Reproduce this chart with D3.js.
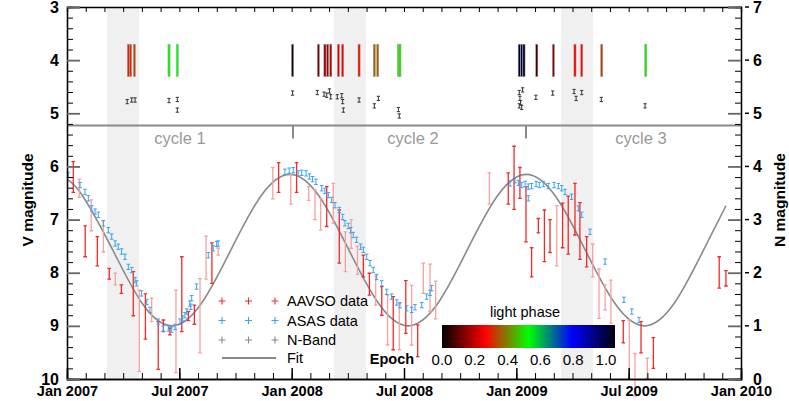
<!DOCTYPE html>
<html><head><meta charset="utf-8">
<script src="https://cdn.jsdelivr.net/npm/d3@7"></script>
<style>body{margin:0;background:#fff}svg{display:block;font-family:"Liberation Sans",Arial,Helvetica,sans-serif}</style>
</head><body><svg id="c" width="789" height="401"></svg>
<script>
// ---------- data (time in decimal years, magnitudes) ----------
const xTickValues = [2007, 2007.5, 2008, 2008.5, 2009, 2009.5, 2010];
const xTickLabels = ["Jan 2007","Jul 2007","Jan 2008","Jul 2008","Jan 2009","Jul 2009","Jan 2010"];
const vTicks = [3,4,5,6,7,8,9,10];
const nTicks = [0,1,2,3,4,5,6,7];
const phaseTicks = [0,0.2,0.4,0.6,0.8,1.0];
const cycleLabels = ["cycle 1","cycle 2","cycle 3"];
const cycleLabelPos = [2007.503, 2008.540, 2009.555];
const cycleBounds = [2008.006, 2009.043];
const shadedBands = [[2007.178,2007.320],[2008.188,2008.331],[2009.199,2009.341]];
const separatorV = 5.23;

// AAVSO: [time, V bright end, V faint end]
const aavsoStrong = [
 [2007.028,5.91,6.49],[2007.081,7.12,7.70],[2007.135,7.32,7.87],[2007.188,7.92,8.12],[2007.242,8.23,8.39],
 [2007.295,7.98,8.81],[2007.349,8.40,9.25],[2007.406,8.92,9.82],[2007.429,8.89,9.11],[2007.458,9.04,9.17],
 [2007.511,7.70,9.11],[2007.540,8.73,8.90],[2007.567,8.61,8.97],[2007.645,7.44,8.20],
 [2007.942,5.93,6.49],[2008.022,5.93,6.49],[2008.156,6.38,7.13],[2008.212,6.82,7.82],[2008.319,7.67,8.08],
 [2008.346,8.01,8.42],[2008.401,8.26,8.80],[2008.452,8.45,9.45],[2008.508,8.15,9.14],[2008.561,8.98,9.58],
 [2008.964,6.12,6.71],[2008.990,5.62,6.81],[2009.016,6.02,6.60],[2009.043,6.38,7.42],[2009.068,7.53,8.08],
 [2009.098,6.98,7.25],[2009.125,6.82,7.79],[2009.150,7.00,7.62],[2009.206,6.69,7.53],[2009.231,6.56,7.65],
 [2009.261,6.32,7.29],[2009.283,6.68,7.75],[2009.313,7.32,7.89],[2009.476,8.90,9.32],[2009.555,8.92,9.51],
 [2009.610,9.22,9.80],[2009.903,7.70,8.29],[2009.933,7.96,8.25]
];
const aavsoFaint = [
 [2007.055,6.24,6.58],[2007.108,6.63,7.21],[2007.162,7.02,7.61],[2007.215,8.01,8.23],[2007.322,8.33,9.86],
 [2007.377,8.48,8.92],[2007.485,8.33,9.88],[2007.592,8.11,9.51],[2007.619,7.31,8.12],[2007.673,7.54,7.67],
 [2007.916,6.02,6.61],[2007.996,6.16,6.71],[2008.076,6.38,6.64],[2008.104,6.44,7.00],[2008.129,6.60,7.20],
 [2008.185,6.32,7.07],[2008.239,7.23,7.98],[2008.265,7.00,7.54],[2008.293,7.50,8.03],[2008.374,8.06,8.61],
 [2008.427,8.42,9.36],[2008.479,8.58,9.45],[2008.534,8.24,9.36],[2008.586,7.82,8.39],[2008.616,7.84,8.73],
 [2008.641,8.16,8.87],
 [2008.880,6.12,6.71],[2009.180,6.74,7.87],[2009.340,7.46,8.08],[2009.368,7.93,8.86],[2009.395,8.23,8.70],
 [2009.421,8.14,8.95],[2009.503,8.89,10.0],[2009.528,9.52,10.32],[2009.583,9.61,9.99]
];
// ASAS: [time, V]
const asas = [
 [2007.006,6.16],[2007.058,6.35],[2007.080,6.48],[2007.095,6.60],[2007.110,6.79],[2007.125,6.85],[2007.139,6.91],
 [2007.162,7.07],[2007.184,7.20],[2007.199,7.32],[2007.214,7.45],[2007.228,7.51],[2007.243,7.60],[2007.258,7.70],
 [2007.273,7.89],[2007.288,7.95],[2007.303,8.14],[2007.310,8.20],[2007.332,8.39],[2007.355,8.55],[2007.369,8.70],
 [2007.406,8.92],[2007.429,9.05],[2007.451,9.05],[2007.466,9.07],[2007.481,9.02],[2007.503,8.92],[2007.515,8.86],
 [2007.525,8.80],[2007.533,8.73],[2007.547,8.58],[2007.551,8.64],[2007.555,8.48],[2007.577,8.26],[2007.629,7.67],
 [2007.651,7.54],[2007.666,7.46],[2007.673,7.45],
 [2007.970,6.10],[2007.989,6.08],[2008.007,6.07],[2008.029,6.13],[2008.045,6.12],[2008.064,6.13],[2008.079,6.19],
 [2008.093,6.24],[2008.108,6.29],[2008.134,6.41],[2008.148,6.46],[2008.163,6.54],[2008.178,6.63],[2008.193,6.73],
 [2008.212,6.82],[2008.227,6.95],[2008.237,7.07],[2008.252,7.12],[2008.263,7.20],[2008.274,7.29],[2008.289,7.38],
 [2008.307,7.51],[2008.319,7.57],[2008.334,7.70],[2008.349,7.82],[2008.363,7.95],[2008.378,8.08],[2008.401,8.20],
 [2008.423,8.36],[2008.445,8.45],[2008.468,8.56],[2008.482,8.61],[2008.512,8.67],[2008.534,8.70],[2008.549,8.65],
 [2008.579,8.61],[2008.601,8.45],[2008.616,8.38],[2008.623,8.29],
 [2008.972,6.32],[2008.994,6.26],[2009.009,6.31],[2009.024,6.35],[2009.039,6.33],[2009.053,6.38],[2009.068,6.37],
 [2009.088,6.33],[2009.102,6.35],[2009.120,6.33],[2009.142,6.37],[2009.168,6.35],[2009.187,6.37],[2009.202,6.41],
 [2009.217,6.48],[2009.246,6.57],[2009.053,6.60],[2009.276,6.79],[2009.291,6.91],[2009.328,7.23],[2009.395,7.79],
 [2009.479,8.51],[2009.514,8.73],[2009.546,8.89]
];
// N-band: [time, N magnitude]
const nband = [
 [2007.268,5.22],[2007.288,5.25],[2007.303,5.25],[2007.454,5.24],[2007.491,5.26],[2007.491,5.06],
 [2008.004,5.38],[2008.114,5.39],[2008.144,5.36],[2008.156,5.34],[2008.168,5.42],[2008.174,5.31],[2008.203,5.31],
 [2008.223,5.33],[2008.227,5.22],[2008.230,5.06],[2008.300,5.25],[2008.368,5.14],[2008.386,5.28],[2008.475,5.07],
 [2008.479,4.95],
 [2009.013,5.39],[2009.016,5.28],[2009.019,5.20],[2009.024,5.11],[2009.013,5.14],[2009.028,5.44],[2009.087,5.30],
 [2009.162,5.38],[2009.257,5.41],[2009.266,5.28],[2009.291,5.39],[2009.378,5.26],[2009.573,5.14]
];
// observation epochs: [time, light phase]
const epochs = [
 [2007.273,0.28],[2007.283,0.29],[2007.300,0.32],[2007.454,0.49],[2007.491,0.50],
 [2008.004,0.02],[2008.119,0.12],[2008.148,0.15],[2008.160,0.16],[2008.174,0.17],[2008.208,0.22],[2008.227,0.23],
 [2008.300,0.27],[2008.368,0.34],[2008.383,0.35],[2008.475,0.46],[2008.482,0.47],
 [2009.013,0.94],[2009.024,0.96],[2009.034,0.98],[2009.091,0.07],[2009.165,0.13],[2009.261,0.24],[2009.291,0.25],
 [2009.380,0.31],[2009.576,0.48]
];
// sinusoidal fit: [time, V]
const fit = [
 [2007.000,6.24],[2007.072,6.57],[2007.204,7.575],[2007.335,8.58],[2007.467,9.00],[2007.598,8.58],[2007.729,7.575],
 [2007.861,6.57],[2007.992,6.15],[2008.124,6.57],[2008.255,7.575],[2008.387,8.58],[2008.518,9.00],[2008.650,8.58],
 [2008.781,7.575],[2008.913,6.57],[2009.044,6.15],[2009.176,6.57],[2009.307,7.575],[2009.439,8.58],[2009.570,9.00],
 [2009.702,8.58],[2009.833,7.575],[2009.933,6.74]
];
const phaseStops = [0,0.25,0.5,0.75,1];
const phaseColors = ["#000000","#ff0000","#00ff00","#0000ff","#000010"];
const legendLabels = ["AAVSO data","ASAS data","N-Band","Fit"];

// ---------- drawing ----------
const svg = d3.select("#c");
const L=67, R=741, T=7, B=379;
const x = d3.scaleLinear().domain([2007,2010]).range([L,R]);
const yV = d3.scaleLinear().domain([3,10]).range([T,B]);
const yN = d3.scaleLinear().domain([7,0]).range([T,B]);
const pc = d3.scaleLinear().domain(phaseStops).range(phaseColors);

const RED="#f22a2a", PINK="#f7a1a1", BLUE="#3aa2ee", GRAY="#8a8a8a";

// shaded bands
svg.append("g").selectAll("rect").data(shadedBands).join("rect")
 .attr("x",d=>x(d[0])).attr("width",d=>x(d[1])-x(d[0])).attr("y",T).attr("height",B-T).attr("fill","#f0f0f0");

// separator and cycle marks
svg.append("line").attr("x1",L).attr("x2",R).attr("y1",yV(separatorV)).attr("y2",yV(separatorV))
 .attr("stroke",GRAY).attr("stroke-width",2);
svg.append("g").selectAll("line").data(cycleBounds).join("line")
 .attr("x1",d=>x(d)).attr("x2",d=>x(d)).attr("y1",yV(separatorV)).attr("y2",yV(separatorV)+13)
 .attr("stroke",GRAY).attr("stroke-width",2);
svg.append("g").selectAll("text").data(cycleLabels).join("text")
 .attr("x",(d,i)=>x(cycleLabelPos[i])).attr("y",yV(separatorV)+18).attr("text-anchor","middle")
 .attr("font-size",16.5).attr("fill","#999").text(d=>d);

// epoch bars
svg.append("g").selectAll("rect").data(epochs).join("rect")
 .attr("x",d=>x(d[0])-1.1).attr("width",2.2).attr("y",yV(3.70)).attr("height",yV(4.31)-yV(3.70))
 .attr("fill",d=>pc(d[1])).attr("stroke","#aaa").attr("stroke-width",0.5);

// error bar helper
function errbars(g, data, xf, y1f, y2f, color, cap, sw){
  const s = g.append("g").attr("stroke",color).attr("stroke-width",sw).attr("fill","none");
  s.selectAll("path").data(data).join("path").attr("d",d=>{
    const xx=xf(d), a=y1f(d), b=y2f(d);
    return `M${xx},${a}V${b}M${xx-cap},${a}H${xx+cap}M${xx-cap},${b}H${xx+cap}`;
  });
}
const gd = svg.append("g");
// N-band
errbars(gd, nband, d=>x(d[0]), d=>yN(d[1]+0.04), d=>yN(d[1]-0.04), "#333", 1.6, 1);
// fit
gd.append("path").datum(fit).attr("fill","none").attr("stroke",GRAY).attr("stroke-width",1.6)
 .attr("d",d3.line().x(d=>x(d[0])).y(d=>yV(d[1])).curve(d3.curveNatural));
// AAVSO
errbars(gd, aavsoFaint, d=>x(d[0]), d=>yV(d[1]), d=>yV(d[2]), PINK, 1.8, 1.3);
errbars(gd, aavsoStrong, d=>x(d[0]), d=>yV(d[1]), d=>yV(d[2]), RED, 1.8, 1.3);
// ASAS
errbars(gd, asas, d=>x(d[0]), d=>yV(d[1]-0.05), d=>yV(d[1]+0.05), BLUE, 1.8, 1);

// ---------- axes ----------
function style(g){
  g.select(".domain").attr("stroke","#000").attr("stroke-width",1.3);
  g.selectAll(".tick line").attr("stroke","#000").attr("stroke-width",1);
  g.selectAll(".tick text").attr("fill","#000").attr("font-weight","bold").attr("font-family","Liberation Sans, Arial, sans-serif");
}
const months=[]; for(let yy=2007; yy<2010; yy++) for(let mm=0; mm<12; mm++) months.push(yy+mm/12);
const minorV = d3.range(3,10.001,0.2).filter(v=>Math.abs(v-Math.round(v))>0.01);

// bottom
svg.append("g").attr("transform",`translate(0,${B})`)
 .call(d3.axisBottom(x).tickValues(months).tickSize(-6).tickFormat("")).call(style);
svg.append("g").attr("transform",`translate(0,${B})`)
 .call(d3.axisBottom(x).tickValues(xTickValues).tickSize(-11).tickPadding(7).tickFormat((d,i)=>xTickLabels[i]))
 .call(style).call(g=>g.selectAll(".tick text").attr("font-size",14.5))
 .call(g=>g.selectAll(".tick line").attr("stroke-width",1.5));
// top
svg.append("g").attr("transform",`translate(0,${T})`)
 .call(d3.axisTop(x).tickValues(months).tickSize(-5).tickFormat("")).call(style);
// left
svg.append("g").attr("transform",`translate(${L},0)`)
 .call(d3.axisLeft(yV).tickValues(minorV).tickSize(-6).tickFormat("")).call(style);
svg.append("g").attr("transform",`translate(${L},0)`)
 .call(d3.axisLeft(yV).tickValues(vTicks).tickSize(-13).tickPadding(8).tickFormat(d3.format("d")))
 .call(style).call(g=>g.selectAll(".tick text").attr("font-size",16))
 .call(g=>g.selectAll(".tick line").attr("stroke","#666").attr("stroke-width",1.8));
// right
svg.append("g").attr("transform",`translate(${R},0)`)
 .call(d3.axisRight(yN).tickValues(minorV.map(v=>10-v)).tickSize(-6).tickFormat("")).call(style);
svg.append("g").attr("transform",`translate(${R},0)`)
 .call(d3.axisRight(yN).tickValues(nTicks).tickSize(-13).tickPadding(12).tickFormat(d3.format("d")))
 .call(style).call(g=>g.selectAll(".tick text").attr("font-size",16))
 .call(g=>g.selectAll(".tick line").attr("stroke","#666").attr("stroke-width",1.8));
svg.append("g").selectAll("line").data(nTicks.filter(n=>n>0)).join("line")
 .attr("x1",R+4).attr("x2",R+8).attr("y1",d=>yN(d)).attr("y2",d=>yN(d)).attr("stroke","#000").attr("stroke-width",1.5);

// axis titles
svg.append("text").attr("transform","translate(33,200) rotate(-90)").attr("text-anchor","middle")
 .attr("font-weight","bold").attr("font-size",15.5).text("V magnitude");
svg.append("text").attr("transform","translate(785,200) rotate(-90)").attr("text-anchor","middle")
 .attr("font-weight","bold").attr("font-size",15.5).text("N magnitude");

// ---------- legend ----------
const lg = svg.append("g");
const legColors=[RED,BLUE,GRAY];
const legY=[301,320.5,340];
const legX=[222,248.5,275];
legColors.forEach((c,i)=>{
  legX.forEach(xx=>{
    lg.append("path").attr("d",`M${xx-3.5},${legY[i]}H${xx+3.5}M${xx},${legY[i]-3.5}V${legY[i]+3.5}`)
      .attr("stroke",c).attr("stroke-width",1.1);
  });
});
lg.append("line").attr("x1",222).attr("x2",276).attr("y1",358).attr("y2",358).attr("stroke",GRAY).attr("stroke-width",2);
lg.selectAll("text").data(legendLabels).join("text")
 .attr("x",287).attr("y",(d,i)=>[306,326,345,363][i]).attr("font-size",14.5).attr("fill","#000").text(d=>d);

// ---------- colorbar ----------
const defs = svg.append("defs");
const grad = defs.append("linearGradient").attr("id","ph");
phaseStops.forEach((s,i)=>grad.append("stop").attr("offset",s).attr("stop-color",phaseColors[i]));
const cbX0=442, cbX1=615;
svg.append("rect").attr("x",cbX0).attr("y",325).attr("width",cbX1-cbX0).attr("height",23).attr("fill","url(#ph)");
const cbScale = d3.scaleLinear().domain([0,1]).range([442,606]);
svg.append("g").selectAll("text").data(phaseTicks).join("text")
 .attr("x",d=>cbScale(d)).attr("y",365).attr("text-anchor","middle").attr("font-size",15).text(d=>d.toFixed(1));
svg.append("text").attr("x",525).attr("y",317).attr("text-anchor","middle").attr("font-size",14.5).text("light phase");
svg.append("text").attr("x",392).attr("y",364).attr("text-anchor","middle").attr("font-weight","bold").attr("font-size",14.5).text("Epoch");
</script></body></html>
